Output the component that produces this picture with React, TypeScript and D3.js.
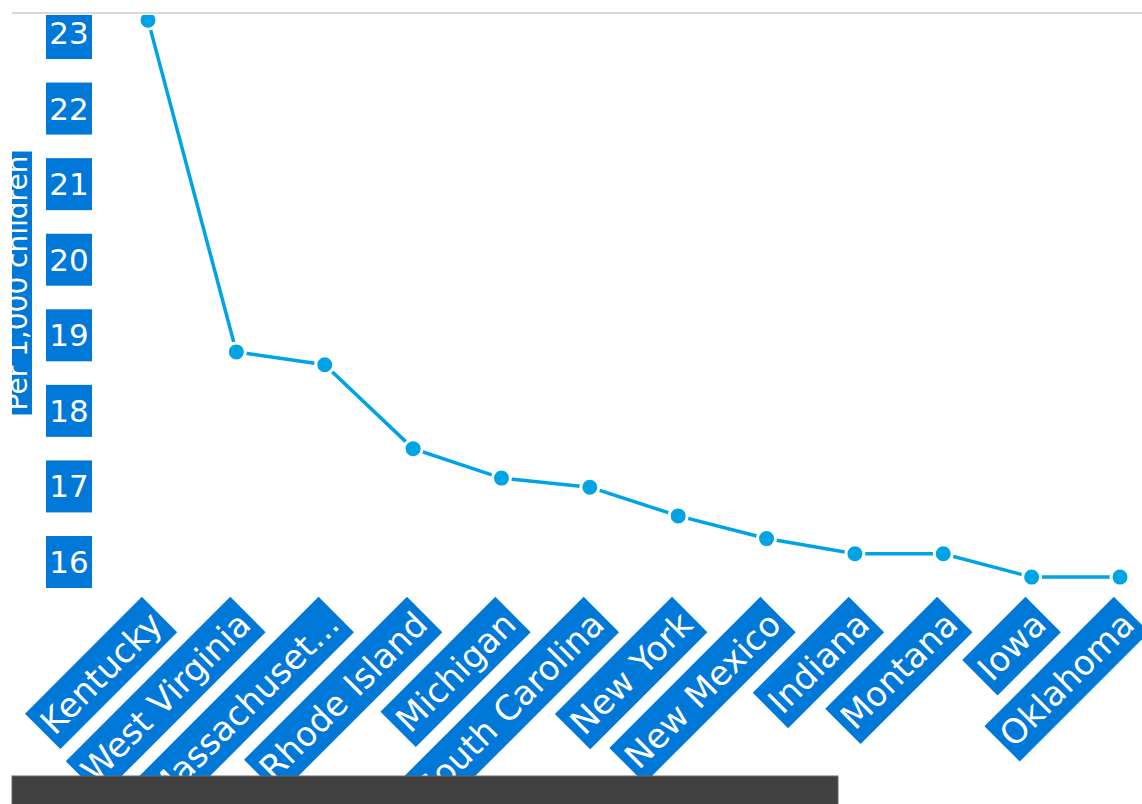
import React, { useEffect, useRef } from "react";
import * as d3 from "d3";

const states = ["Kentucky", "West Virginia", "Massachusetts", "Rhode Island", "Michigan", "South Carolina", "New York", "New Mexico", "Indiana", "Montana", "Iowa", "Oklahoma"];
const stateLabels = ["Kentucky", "West Virginia", "Massachuset...", "Rhode Island", "Michigan", "South Carolina", "New York", "New Mexico", "Indiana", "Montana", "Iowa", "Oklahoma"];
const rates = [23.17, 18.78, 18.61, 17.5, 17.11, 16.99, 16.61, 16.31, 16.11, 16.11, 15.8, 15.8];
const yTicks = [16, 17, 18, 19, 20, 21, 22, 23];
const yTitle = "Per 1,000 children";

const W = 1142;
const H = 804;
const BLUE = "#0078d7";
const LINE = "#00a3e4";
const FONT = "'DejaVu Sans', sans-serif";

export default function App() {
  const ref = useRef<SVGSVGElement>(null);

  useEffect(() => {
    const svg = d3.select(ref.current);
    svg.selectAll("*").remove();

    const x = d3.scalePoint<string>().domain(states).range([148, 1120]);
    const y = d3.scaleLinear().domain([16, 23]).range([562, 33]);

    const defs = svg.append("defs");
    defs.append("clipPath").attr("id", "plotclip")
      .append("rect").attr("x", 12).attr("y", 15).attr("width", W - 12).attr("height", H - 15);

    // top rule
    svg.append("line").attr("x1", 12).attr("x2", W).attr("y1", 13).attr("y2", 13)
      .attr("stroke", "#d9d9d9").attr("stroke-width", 2);

    const g = svg.append("g").attr("clip-path", "url(#plotclip)");

    // y title
    const tg = g.append("g").attr("transform", `translate(17,283) rotate(-90)`);
    const tt = tg.append("text").attr("text-anchor", "middle").attr("dominant-baseline", "central")
      .attr("font-family", FONT).attr("font-size", 28).attr("fill", "#fff").text(yTitle);
    const tl = (tt.node() as SVGTextElement).getComputedTextLength();
    tg.insert("rect", "text").attr("x", -tl / 2 - 4).attr("y", -15).attr("width", tl + 8).attr("height", 30).attr("fill", BLUE);

    // y ticks
    yTicks.forEach((t) => {
      const gg = g.append("g").attr("transform", `translate(69,${y(t)})`);
      const txt = gg.append("text").attr("text-anchor", "middle").attr("dominant-baseline", "central")
        .attr("font-family", FONT).attr("font-size", 31).attr("fill", "#fff").text(String(t));
      const len = (txt.node() as SVGTextElement).getComputedTextLength();
      gg.insert("rect", "text").attr("x", -23).attr("y", -26).attr("width", 46).attr("height", 52).attr("fill", BLUE);
    });

    // line
    const line = d3.line<number>().x((_, i) => x(states[i]) as number).y((d) => y(d));
    g.append("path").datum(rates).attr("d", line).attr("fill", "none").attr("stroke", LINE).attr("stroke-width", 3.5);
    g.selectAll("circle.pt").data(rates).enter().append("circle")
      .attr("cx", (_, i) => x(states[i]) as number).attr("cy", (d) => y(d)).attr("r", 9)
      .attr("fill", LINE).attr("stroke", "#fff").attr("stroke-width", 3);

    // x labels
    stateLabels.forEach((lab, i) => {
      const ax = (x(states[i]) as number) + 8;
      const gg = g.append("g").attr("transform", `translate(${ax},618) rotate(-45)`);
      const txt = gg.append("text").attr("text-anchor", "end").attr("dominant-baseline", "central")
        .attr("font-family", FONT).attr("font-size", 34).attr("fill", "#fff").text(lab);
      const len = (txt.node() as SVGTextElement).getComputedTextLength();
      gg.insert("rect", "text").attr("x", -len - 5).attr("y", -25).attr("width", len + 10).attr("height", 50).attr("fill", BLUE);
    });

    // bottom dark bar
    svg.append("rect").attr("x", 12).attr("y", 776).attr("width", 826).attr("height", 30)
      .attr("fill", "#404040").attr("stroke", "#6a6a6a").attr("stroke-width", 1);
  }, []);

  return (
    <div style={{ position: "absolute", left: 0, top: 0, width: W, height: H, overflow: "hidden", background: "#fff" }}>
      <svg ref={ref} width={W} height={H} style={{ display: "block" }} />
    </div>
  );
}
